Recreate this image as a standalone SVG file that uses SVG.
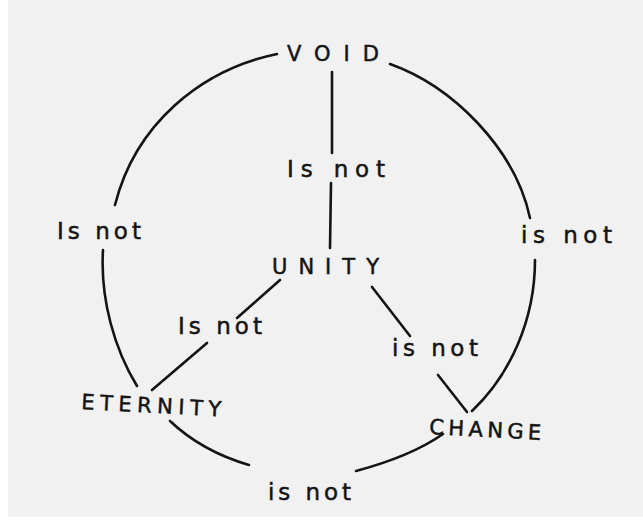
<svg xmlns="http://www.w3.org/2000/svg" width="643" height="526" viewBox="0 0 643 526">
  <style>
    .ln { fill: none; stroke: #141414; stroke-width: 2.6; stroke-linecap: round; }
    .nd { font-family: "DejaVu Sans", "Liberation Sans", sans-serif; fill: #141414; stroke: #141414; stroke-width: 0.5; font-size: 21px; }
    .lb { font-family: "DejaVu Sans", "Liberation Sans", sans-serif; fill: #141414; stroke: #141414; stroke-width: 0.5; font-size: 23px; }
  </style>
  <rect x="0" y="0" width="643" height="526" fill="#ffffff"/>
  <rect x="8" y="0" width="635" height="517" fill="#f1f1f1"/>

  <g id="connectors">
    <g id="void-unity">
      <path class="ln" d="M332,72 L332,153"/>
      <path class="ln" d="M331,183 L330,248"/>
      <text class="lb" x="287" y="177" textLength="98" lengthAdjust="spacing">Is not</text>
    </g>
    <g id="void-eternity">
      <path class="ln" d="M277,54 C200,70 135,125 115,205"/>
      <path class="ln" d="M103,250 C100,300 115,350 137,386"/>
      <text class="lb" x="57" y="239" textLength="84" lengthAdjust="spacing">Is not</text>
    </g>
    <g id="void-change">
      <path class="ln" d="M390,64 C452,86 515,148 530,218"/>
      <path class="ln" d="M535,260 C535,320 510,375 472,411"/>
      <text class="lb" x="521" y="243" textLength="91" lengthAdjust="spacing">is not</text>
    </g>
    <g id="unity-eternity">
      <path class="ln" d="M280,280 L237,318"/>
      <path class="ln" d="M207,343 L152,390"/>
      <text class="lb" x="178" y="334" textLength="84" lengthAdjust="spacing">Is not</text>
    </g>
    <g id="unity-change">
      <path class="ln" d="M372,287 L410,336"/>
      <path class="ln" d="M438,375 L467,412"/>
      <text class="lb" x="392" y="356" textLength="86" lengthAdjust="spacing">is not</text>
    </g>
    <g id="eternity-change">
      <path class="ln" d="M170,421 C190,440 215,455 249,465"/>
      <path class="ln" d="M356,471 C386,463 420,450 443,434"/>
      <text class="lb" x="268" y="500" textLength="83" lengthAdjust="spacing">is not</text>
    </g>
  </g>

  <g id="void">
    <text class="nd" x="287" y="61" font-size="23" textLength="92" lengthAdjust="spacing">VOID</text>
  </g>
  <g id="unity">
    <text class="nd" x="272" y="274" font-size="25" textLength="107" lengthAdjust="spacing">UNITY</text>
  </g>
  <g id="eternity">
    <text class="nd" x="81" y="409" textLength="140" lengthAdjust="spacing" transform="rotate(3 81 409)">ETERNITY</text>
  </g>
  <g id="change">
    <text class="nd" x="429" y="434" textLength="112" lengthAdjust="spacing" transform="rotate(3 429 434)">CHANGE</text>
  </g>
</svg>
